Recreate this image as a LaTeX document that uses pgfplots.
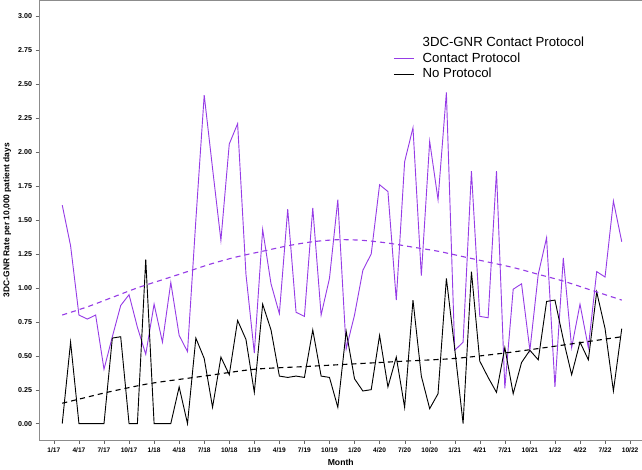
\documentclass[border=0pt]{standalone}
\usepackage{fontspec}
\setmainfont{Liberation Sans}
\usepackage{pgfplots}
\pgfplotsset{compat=1.18}
\definecolor{cpurple}{RGB}{150,60,230}
\begin{document}
\begin{tikzpicture}
\begin{axis}[
  scale only axis, width=593pt, height=433pt,
  xmin=-1.7, xmax=70.4, ymin=-0.12, ymax=3.12,
  xtick={0,3,...,69},
  xticklabels={1/17,4/17,7/17,10/17,1/18,4/18,7/18,10/18,1/19,4/19,7/19,10/19,1/20,4/20,7/20,10/20,1/21,4/21,7/21,10/21,1/22,4/22,7/22,10/22},
  ytick={0,0.25,...,3.01},
  yticklabel={\pgfmathprintnumber[fixed,fixed zerofill,precision=2]{\tick}},
  /pgf/number format/assume math mode=true,
  tick align=outside, tick pos=left,
  major tick length=4pt,
  axis line style={black!45},
  tick style={black!60},
  xticklabel style={font=\bfseries\fontsize{6.5}{8}\selectfont},
  yticklabel style={font=\bfseries\fontsize{7}{8}\selectfont},
  xlabel={Month}, ylabel={3DC-GNR Rate per 10,000 patient days},
  xlabel style={font=\bfseries\fontsize{8.5}{10}\selectfont},
  ylabel style={font=\bfseries\fontsize{8.3}{10}\selectfont},
  legend style={at={(rel axis cs:0.587,0.92)}, anchor=north west, draw=none, fill=none,
    font=\fontsize{13}{15}\selectfont, row sep=0pt, inner sep=0pt,
    nodes={inner sep=1pt, text height=10pt, text depth=3.3pt}},
  legend cell align=left,
  legend image code/.code={\draw[#1] (0pt,0pt) -- (20pt,0pt); \path (27pt,0pt);},
]
\addlegendimage{empty legend}
\addlegendentry{3DC-GNR Contact Protocol}
\addplot[cpurple, line width=0.9pt] coordinates {
(1,1.61)(2,1.31)(3,0.80)(4,0.77)(5,0.80)(6,0.40)(7,0.64)(8,0.87)(9,0.95)(10,0.71)
(11,0.51)(12,0.88)(13,0.60)(14,1.04)(15,0.65)(16,0.53)(17,1.50)(18,2.42)(19,1.88)(20,1.35)
(21,2.06)(22,2.21)(23,1.10)(24,0.52)(25,1.43)(26,1.03)(27,0.81)(28,1.58)(29,0.82)(30,0.79)
(31,1.59)(32,0.80)(33,1.07)(34,1.65)(35,0.55)(36,0.80)(37,1.13)(38,1.25)(39,1.76)(40,1.71)
(41,0.91)(42,1.93)(43,2.18)(44,1.09)(45,2.08)(46,1.65)(47,2.44)(48,0.54)(49,0.60)(50,1.86)
(51,0.79)(52,0.78)(53,1.86)(54,0.26)(55,0.99)(56,1.03)(57,0.54)(58,1.10)(59,1.37)(60,0.27)
(61,1.22)(62,0.56)(63,0.88)(64,0.56)(65,1.12)(66,1.08)(67,1.64)(68,1.34)};
\addlegendentry{Contact Protocol}
\addplot[black, line width=0.9pt] coordinates {
(1,0.00)(2,0.60)(3,0.00)(4,0.00)(5,0.00)(6,0.00)(7,0.63)(8,0.64)(9,0.00)(10,0.00)
(11,1.21)(12,0.00)(13,0.00)(14,0.00)(15,0.27)(16,0.00)(17,0.63)(18,0.48)(19,0.12)(20,0.49)
(21,0.36)(22,0.76)(23,0.62)(24,0.23)(25,0.88)(26,0.69)(27,0.35)(28,0.34)(29,0.35)(30,0.34)
(31,0.69)(32,0.35)(33,0.34)(34,0.12)(35,0.68)(36,0.33)(37,0.24)(38,0.25)(39,0.65)(40,0.27)
(41,0.49)(42,0.12)(43,0.91)(44,0.35)(45,0.11)(46,0.22)(47,1.07)(48,0.55)(49,0.00)(50,1.12)
(51,0.46)(52,0.34)(53,0.23)(54,0.56)(55,0.22)(56,0.45)(57,0.54)(58,0.47)(59,0.90)(60,0.91)
(61,0.62)(62,0.36)(63,0.60)(64,0.47)(65,0.97)(66,0.70)(67,0.24)(68,0.70)};
\addlegendentry{No Protocol}
\addplot[cpurple, line width=1.1pt, dash pattern=on 5pt off 4pt, smooth, forget plot] coordinates {
(1,0.80)(4,0.86)(7,0.93)(10,1.00)(13,1.06)(16,1.12)(19,1.18)(22,1.23)(25,1.27)(28,1.31)
(31,1.34)(34,1.355)(37,1.35)(40,1.33)(43,1.30)(46,1.27)(49,1.23)(52,1.19)(55,1.15)(58,1.10)
(61,1.05)(64,0.99)(67,0.93)(68,0.91)};
\addplot[black, line width=1.1pt, dash pattern=on 5pt off 4pt, smooth, forget plot] coordinates {
(1,0.15)(3,0.18)(6,0.225)(9,0.265)(12,0.30)(18,0.35)(24,0.40)(30,0.42)(36,0.44)(42,0.46)
(48,0.48)(54,0.52)(60,0.57)(68,0.64)};
\end{axis}
\end{tikzpicture}
\end{document}
